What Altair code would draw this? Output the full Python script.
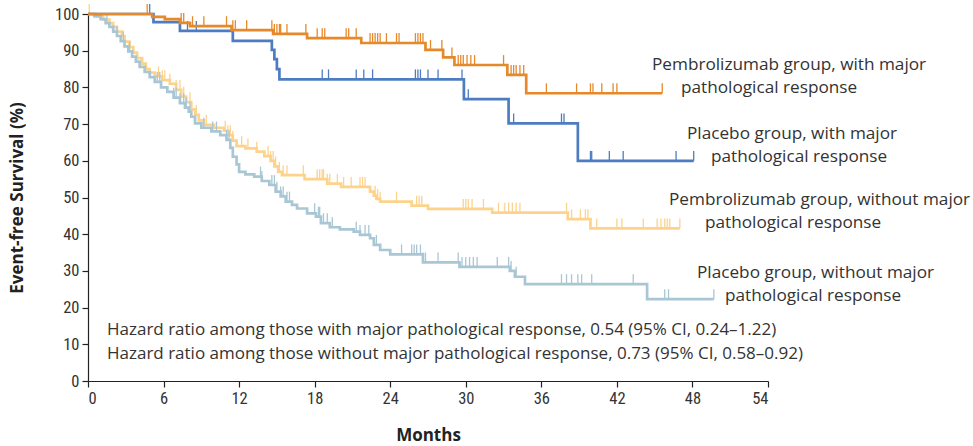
import altair as alt
import pandas as pd
import numpy as np

# ---------------- data ----------------
groups = ["Pembrolizumab group, without major pathological response",
          "Placebo group, without major pathological response",
          "Placebo group, with major pathological response",
          "Pembrolizumab group, with major pathological response"]
colors = ["#FDD38B", "#A9C6D5", "#4E7CC2", "#E6892B"]

# Pembrolizumab, with MPR
pem_mpr_t = [0, 5.1, 6.1, 7.3, 8.1, 11.4, 14.7, 17.4, 21.7, 26.8, 28.2, 29.1, 33.3, 34.8, 45.6]
pem_mpr_s = [100, 99.2, 98.6, 97.6, 96.7, 95.6, 94.6, 93.4, 92.1, 90.2, 88.2, 86.1, 83.4, 78.4, 78.4]
pem_mpr_c = [4.7, 7.4, 7.6, 8.3, 9.2, 11.0, 11.5, 11.7, 12.6, 14.6, 14.8, 15.0, 15.2, 15.3, 15.8,
             17.3, 18.2, 18.6, 18.8, 20.5, 20.7, 21.3, 22.4, 22.6, 22.8, 23.0, 23.2, 23.7, 24.5,
             24.7, 26.0, 26.2, 26.4, 26.6, 27.2, 28.1, 28.9, 29.4, 29.6, 29.8, 30.1, 30.4, 30.7,
             33.0, 33.6, 33.8, 34.0, 34.3, 34.6, 36.4, 38.8, 39.9, 40.1, 40.8, 41.7, 42.0, 45.6]

# Placebo, with MPR
pla_mpr_t = [0, 5.2, 7.3, 11.5, 14.6, 14.8, 15.0, 15.2, 29.85, 33.4, 38.9, 48.1]
pla_mpr_s = [100, 97.8, 95.4, 92.7, 90.2, 87.7, 85.0, 82.2, 76.8, 70.2, 60.0, 60.0]
pla_mpr_c = [4.9, 7.9, 8.6, 18.6, 19.1, 21.3, 21.9, 22.6, 26.0, 26.2, 26.4, 27.0, 27.8, 29.7,
             30.2, 33.8, 37.6, 37.8, 39.9, 40.0, 41.4, 42.5, 46.7, 48.1]

# Pembrolizumab, without MPR
pem_no_t = [0, 0.6, 1.2, 1.7, 2.0, 2.3, 2.7, 2.9, 3.3, 3.6, 3.9, 4.3, 4.6, 4.9, 5.3, 5.9, 6.5,
            7.0, 7.4, 7.8, 8.2, 8.5, 8.8, 9.2, 10.0, 10.8, 11.1, 11.5, 11.8, 12.5, 13.4, 14.0,
            14.5, 14.8, 15.1, 15.4, 17.2, 19.0, 20.1, 22.4, 22.7, 22.9, 23.2, 25.7, 27.0, 32.1,
            38.1, 39.9, 47.0]
pem_no_s = [100, 99.3, 98.5, 97.5, 96.5, 95.2, 94.0, 92.5, 91.0, 89.5, 88.0, 86.5, 85.0, 84.0,
            83.0, 82.0, 81.0, 79.3, 77.5, 76.0, 74.0, 72.5, 71.0, 69.8, 69.0, 68.2, 67.0, 65.5,
            64.0, 63.4, 62.5, 61.3, 60.0, 58.5, 57.0, 56.1, 55.0, 53.8, 52.9, 51.6, 50.5, 49.6,
            48.9, 47.8, 46.9, 45.9, 44.1, 41.6, 41.6]
pem_no_c = [0.1, 5.6, 5.9, 6.1, 6.5, 7.0, 7.3, 7.6, 8.1, 8.6, 9.4, 10.9, 11.1, 11.3, 11.5, 12.2,
            12.7, 13.4, 14.3, 14.5, 14.7, 14.9, 15.2, 15.5, 15.8, 17.1, 18.2, 18.4, 18.6, 18.7,
            19.0, 19.2, 19.8, 20.3, 20.9, 21.6, 21.8, 22.0, 22.8, 23.0, 23.2, 24.5, 26.1, 26.3,
            26.5, 29.8, 30.0, 30.2, 30.5, 31.4, 32.6, 33.1, 33.4, 33.7, 34.0, 34.3, 38.0, 38.4,
            39.1, 39.5, 39.7, 39.9, 40.4, 42.0, 42.4, 44.1, 45.2, 45.5, 45.8, 46.0, 46.2, 47.0]

# Placebo, without MPR
pla_no_t = [0, 0.5, 1.0, 1.4, 1.7, 2.0, 2.3, 2.6, 2.9, 3.2, 3.5, 3.8, 4.1, 4.5, 4.9, 5.3, 5.8,
            6.3, 6.8, 7.3, 7.7, 8.0, 8.2, 8.5, 9.0, 9.8, 10.5, 11.0, 11.3, 11.5, 11.8, 12.0,
            12.5, 13.2, 13.8, 14.4, 14.9, 15.3, 15.7, 16.2, 16.6, 17.4, 18.1, 18.5, 19.2, 20.0,
            21.1, 21.6, 22.4, 22.7, 23.2, 24.0, 26.6, 29.5, 33.5, 33.9, 34.7, 44.4, 49.7]
pla_no_s = [100, 99.4, 98.6, 97.5, 96.5, 95.2, 94.0, 92.6, 91.2, 89.8, 88.4, 87.0, 85.6, 84.2,
            82.8, 81.5, 80.0, 78.8, 77.2, 75.7, 74.5, 73.4, 72.0, 70.2, 69.0, 68.0, 67.0, 65.7,
            63.5, 61.1, 59.0, 57.0, 56.3, 55.7, 54.5, 53.4, 51.6, 50.3, 48.9, 48.0, 47.0, 45.7,
            44.8, 43.0, 41.9, 41.3, 40.7, 39.8, 38.9, 37.1, 35.7, 34.5, 32.3, 31.1, 30.0, 28.4,
            26.4, 22.3, 22.3]
pla_no_c = [1.5, 2.3, 2.8, 3.3, 5.5, 5.7, 6.8, 7.0, 7.3, 7.6, 7.8, 8.1, 9.2, 9.9, 10.2, 11.0,
            11.2, 11.5, 13.7, 13.8, 14.6, 14.8, 15.0, 15.3, 15.5, 15.8, 16.0, 18.0, 18.3, 18.4,
            18.7, 19.0, 19.4, 21.3, 21.6, 22.0, 22.3, 22.9, 24.9, 25.7, 25.9, 26.1, 26.4, 26.6,
            26.8, 27.8, 29.4, 29.7, 30.0, 30.3, 30.6, 30.9, 32.5, 33.4, 33.6, 34.0, 37.6, 38.0,
            38.4, 38.9, 39.2, 40.0, 43.3, 45.8, 46.1, 49.7]

x_ticks = [0, 6, 12, 18, 24, 30, 36, 42, 48, 54]
y_ticks = [0, 10, 20, 30, 40, 50, 60, 70, 80, 90, 100]

label_lines = ["Pembrolizumab group, with major", "pathological response",
               "Placebo group, with major", "pathological response",
               "Pembrolizumab group, without major", "pathological response",
               "Placebo group, without major", "pathological response"]
# label positions in plot-area pixels (left edge, vertical middle)
label_px = [564, 593, 599, 623, 581, 617, 609, 637]
label_py = [51, 74, 120, 143, 186, 209, 259, 282]

hr_lines = ["Hazard ratio among those with major pathological response, 0.54 (95% CI, 0.24\u20131.22)",
            "Hazard ratio among those without major pathological response, 0.73 (95% CI, 0.58\u20130.92)"]
hr_px = [19, 19]
hr_py = [316, 340]

# ---------------- build tables ----------------
series = [(pem_no_t, pem_no_s, pem_no_c),
          (pla_no_t, pla_no_s, pla_no_c),
          (pla_mpr_t, pla_mpr_s, pla_mpr_c),
          (pem_mpr_t, pem_mpr_s, pem_mpr_c)]

W, H = 680, 367
xs = alt.Scale(domain=[0, 54], nice=False, zero=True)
ys = alt.Scale(domain=[0, 100], nice=False)

FONT = "Open Sans"
TICKFONT = "Liberation Sans Narrow, Roboto Condensed, Lato"
axis_common = dict(grid=False, tickSize=6, labelFontSize=16.5, titleFontSize=17,
                   titleFontWeight="bold", labelPadding=3, domainColor="#222",
                   tickColor="#222", labelColor="#333", titleColor="#222",
                   labelFont=TICKFONT, titleFont=FONT, labelOverlap=False,
                   domainWidth=1.2, tickWidth=1.2)
x_axis = alt.Axis(values=x_ticks, title="Months", titlePadding=21, **axis_common)
y_axis = alt.Axis(values=y_ticks, title="Event-free Survival (%)", titlePadding=28,
                  **axis_common)

layers = []
for i, (t, s, c) in enumerate(series):
    line_df = pd.DataFrame({"t": t, "s": s})
    ta = np.array(t)
    sa = np.array(s)
    idx = np.searchsorted(ta, np.array(c), side="right") - 1
    cs = sa[np.clip(idx, 0, len(sa) - 1)]
    cens_df = pd.DataFrame({"t": c, "s": cs})
    cens = alt.Chart(cens_df).transform_calculate(top="datum.s + 2.7").mark_rule(
        color=colors[i], strokeWidth=1.3
    ).encode(
        x=alt.X("t:Q", scale=xs, axis=x_axis),
        y=alt.Y("s:Q", scale=ys, axis=y_axis),
        y2="top:Q",
    )
    line = alt.Chart(line_df).mark_line(
        interpolate="step-after", color=colors[i], strokeWidth=2.7
    ).encode(
        x=alt.X("t:Q", scale=xs, axis=x_axis),
        y=alt.Y("s:Q", scale=ys, axis=y_axis),
    )
    layers += [cens, line]

lab_df = pd.DataFrame({"text": label_lines, "px": label_px, "py": label_py})
labels = alt.Chart(lab_df).mark_text(
    align="left", baseline="middle", font=FONT, fontSize=17.2, color="#333"
).encode(x=alt.X("px:Q", scale=None), y=alt.Y("py:Q", scale=None), text="text:N")

hr_df = pd.DataFrame({"text": hr_lines, "px": hr_px, "py": hr_py})
hr_text = alt.Chart(hr_df).mark_text(
    align="left", baseline="middle", font=FONT, fontSize=17, color="#333"
).encode(x=alt.X("px:Q", scale=None), y=alt.Y("py:Q", scale=None), text="text:N")

chart = alt.layer(*layers, labels, hr_text).properties(
    width=W, height=H,
    autosize=alt.AutoSizeParams(type="none"),
    padding={"left": 88, "top": 14, "right": 205, "bottom": 65},
).configure_view(stroke=None)

chart.save("out.html", embed_options={"renderer": "svg", "actions": False})
